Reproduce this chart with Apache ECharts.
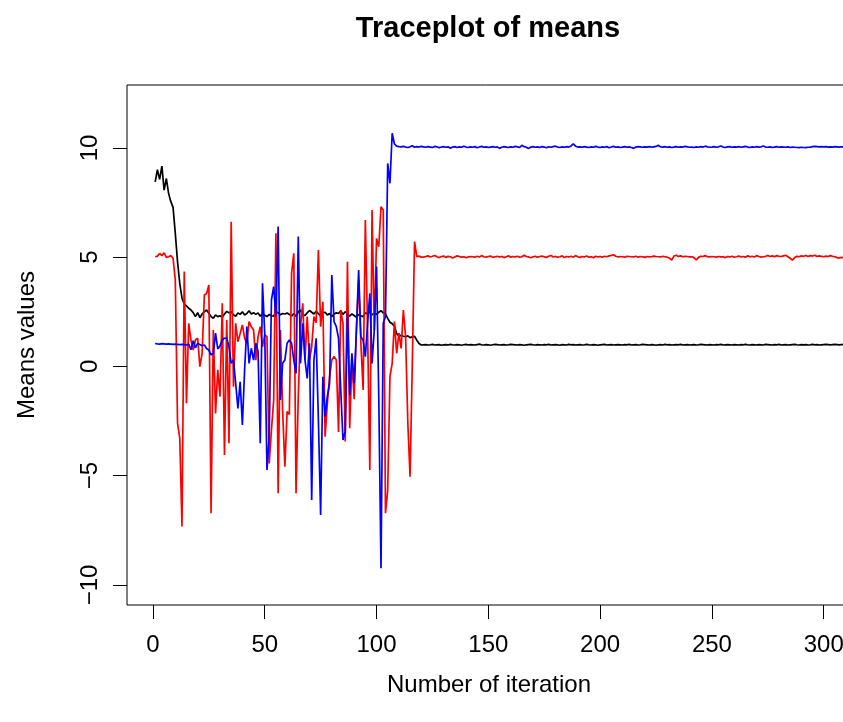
<!DOCTYPE html>
<html>
<head>
<meta charset="utf-8">
<title>Traceplot of means</title>
<script src="https://cdn.jsdelivr.net/npm/echarts@6/dist/echarts.min.js"></script>
<style>
html, body { margin: 0; padding: 0; background: #fff; }
#main { width: 843px; height: 722px; }
</style>
</head>
<body>
<div id="main"></div>
<script>
var xTicks = [0, 50, 100, 150, 200, 250, 300];
var yTicks = [-10, -5, 0, 5, 10];

// iterations 1..120, chains still mixing
var blackBurnIn = [
  8.45, 9.0, 8.56, 9.17, 8.07, 8.6, 7.92, 7.54, 7.28, 6.09,
  4.79, 3.8, 3.12, 2.86, 2.77, 2.66, 2.58, 2.46, 2.28, 2.46,
  2.23, 2.4, 2.5, 2.58, 2.43, 2.28, 2.2, 2.35, 2.28, 2.32,
  2.25, 2.4, 2.52, 2.45, 2.52, 2.36, 2.3, 2.45, 2.38, 2.5,
  2.35, 2.42, 2.55, 2.4, 2.46, 2.38, 2.45, 2.3, 2.4, 2.34,
  2.28, 2.38, 2.32, 2.3, 2.52, 2.45, 2.36, 2.42, 2.4, 2.44,
  2.38, 2.3, 2.42, 2.28, 2.5, 2.58, 2.36, 2.33, 2.45, 2.56,
  2.48, 2.4, 2.52, 2.42, 2.3, 2.45, 2.48, 2.35, 2.42, 2.28,
  2.4, 2.45, 2.42, 2.55, 2.38, 2.5, 2.42, 2.3, 2.4, 2.33,
  2.25, 2.38, 2.32, 2.28, 2.46, 2.4, 2.52, 2.36, 2.45, 2.38,
  2.48, 2.55, 2.45, 2.4, 2.2, 2.02, 1.95, 1.85, 1.5, 1.4,
  1.42, 1.38, 1.36, 1.4, 1.32, 1.35, 1.38, 1.2, 1.05, 0.98
];
var redBurnIn = [
  5.02, 5.05, 5.17, 5.07, 5.2, 4.99, 5.02, 5.07, 4.95, 3.96,
  -2.6, -3.29, -7.33, 4.34, -1.69, 1.97, 1.21, 0.75, 1.21, 1.29,
  -0.01, 0.6, 3.27, 3.34, 3.73, -6.72, 1.67, -2.15, -0.16, -1.38,
  2.89, -4.05, 2.12, -3.52, 6.62, -0.93, 1.97, 1.13, 1.5, 1.9,
  1.29, 1.06, 2.05, 1.82, 1.67, 0.29, 1.36, 1.82, 0.9, 1.44,
  1.36, -4.44, -2.91, -1.54, 6.09, -5.81, 1.67, -1.99, -4.59, -2.07,
  -2.2, 4.26, 5.18, -5.81, -1.38, 1.82, 2.89, 0.29, 2.28, 0.29,
  0.9, 2.28, 2.0, 5.33, 1.82, 2.96, -3.22, -1.69, -0.47, 0.29,
  0.45, 0.3, -3.0, 2.58, 1.97, -3.44, 4.79, -2.83, 0.29, -1.5,
  1.67, 3.95, 1.06, -1.08, 6.7, 1.67, -4.74, 7.16, 1.67, 5.86,
  5.48, 7.31, 7.16, -6.72, -5.66, -0.47, 0.14, 2.05, 0.6, 1.52,
  0.82, 2.58, 1.36, -2.6, -5.05, 0.14, 5.71, 5.02, 5.05, 5.0
];
var blueBurnIn = [
  1.05, 1.03, 1.02, 1.04, 1.03, 1.02, 1.03, 1.02, 1.01, 1.02,
  1.01, 1.0, 1.01, 1.0, 0.98, 1.02, 0.76, 1.18, 0.85, 1.05,
  1.0, 0.95, 0.98, 0.82, 0.75, 0.53, 0.6, 1.52, 0.8, 0.95,
  1.2, 1.29, 1.3, 0.9, 0.14, 0.3, -0.77, -1.92, -0.7, -2.68,
  -0.16, 1.82, 0.14, 0.83, 0.29, 1.06, 0.7, -3.52, 3.8, 1.5,
  -4.74, -3.2, 3.04, 3.65, 2.28, 6.4, -1.54, 0.14, 0.29, 1.06,
  1.21, 1.06, 0.29, -0.32, 5.94, 0.14, 1.97, 0.29, -0.55, 1.06,
  -6.11, 0.29, 1.29, -2.45, -6.8, -0.47, -2.3, -1.38, -0.77, 4.18,
  2.05, 1.82, 1.29, -1.08, -3.37, -2.99, 2.43, -1.31, 0.6, -0.77,
  1.67, 4.41, 1.36, 1.2, 0.45, 1.97, 3.34, 0.14, 1.67, 4.57,
  -1.38, -9.24, 1.97, 2.28, 9.29, 8.38, 10.67, 10.18, 10.08, 10.06,
  10.05, 10.07, 10.04, 10.02, 10.05, 10.1, 10.03, 10.06, 10.04, 10.07
];

// iterations 121..310, converged
var blackStable = [
  0.99, 1.00, 0.98, 0.99, 1.01, 0.98, 0.99, 1.00, 0.97, 0.99,
  1.00, 0.98, 1.01, 0.99, 0.98, 1.00, 0.99, 0.97, 0.99, 1.01,
  0.98, 1.00, 0.99, 0.98, 1.00, 1.02, 0.99, 0.98, 1.00, 0.99,
  0.97, 0.99, 1.01, 1.00, 0.98, 0.99, 1.00, 0.98, 0.99, 1.01,
  1.00, 0.99, 0.98, 1.00, 0.99, 0.97, 0.99, 1.00, 1.01, 0.99,
  0.98, 1.00, 0.99, 0.98, 1.00, 0.99, 1.01, 0.98, 0.99, 1.00,
  0.99, 0.97, 1.00, 0.99, 0.98, 1.01, 0.99, 1.00, 0.98, 0.99,
  1.00, 0.98, 0.99, 1.01, 0.99, 0.98, 1.00, 0.99, 0.97, 0.99,
  1.00, 1.01, 0.98, 0.99, 1.00, 0.98, 0.99, 1.00, 0.99, 0.98,
  1.00, 0.99, 1.01, 0.98, 0.99, 1.00, 0.98, 0.99, 1.01, 1.00,
  0.99, 0.98, 1.00, 0.99, 0.97, 0.99, 1.00, 0.98, 1.01, 0.99,
  1.00, 0.98, 0.99, 1.00, 0.99, 1.01, 0.98, 0.99, 1.00, 0.98,
  0.99, 1.00, 0.98, 0.99, 1.01, 1.00, 0.99, 0.98, 1.00, 0.99,
  0.98, 1.00, 0.99, 1.01, 0.98, 0.99, 1.00, 0.99, 0.98, 1.00,
  0.99, 0.98, 1.00, 0.99, 1.01, 0.99, 0.98, 1.00, 0.99, 0.98,
  1.00, 0.99, 0.98, 1.01, 1.00, 0.99, 0.98, 1.00, 0.99, 1.01,
  0.98, 0.99, 1.00, 0.98, 0.99, 1.00, 1.01, 0.99, 0.98, 1.00,
  0.99, 1.00, 0.98, 0.99, 1.01, 0.99, 1.00, 0.98, 0.99, 1.00,
  1.01, 1.00, 0.99, 1.00, 1.01, 1.00, 0.99, 1.00, 1.01, 1.00
];
var redStable = [
  5.00, 5.03, 5.06, 5.01, 5.04, 5.08, 5.02, 4.98, 5.03, 5.05,
  4.99, 5.04, 5.02, 4.96, 5.01, 5.06, 5.03, 5.00, 5.02, 4.98,
  5.01, 5.03, 5.02, 5.00, 5.04, 5.01, 5.07, 5.02, 5.00, 5.03,
  5.05, 4.99, 5.02, 5.04, 5.01, 5.03, 4.98, 5.02, 5.06, 5.00,
  5.03, 5.01, 5.04, 5.00, 5.02, 5.09, 5.03, 5.01, 4.97, 5.02,
  5.04, 5.00, 5.03, 5.05, 5.02, 4.99, 5.04, 5.08, 5.01, 5.03,
  5.00, 5.02, 5.06, 4.98, 5.03, 5.01, 5.04, 5.00, 5.07, 5.02,
  4.99, 5.03, 5.01, 5.05, 5.00, 5.02, 4.97, 5.04, 5.01, 5.03,
  5.00, 5.04, 5.02, 5.06, 5.08, 5.11, 5.04, 5.01, 5.03, 5.02,
  5.00, 5.04, 5.03, 5.02, 5.01, 5.04, 5.00, 5.03, 5.02, 4.99,
  5.03, 5.01, 5.02, 5.05, 5.03, 5.02, 5.01, 5.04, 5.02, 5.00,
  4.96, 4.87, 5.05, 5.09, 5.03, 5.06, 5.02, 5.04, 5.03, 5.01,
  5.02, 4.98, 4.87, 4.99, 5.04, 5.03, 5.07, 5.02, 5.01, 5.03,
  5.02, 5.00, 5.03, 5.01, 5.02, 4.98, 5.03, 5.01, 5.04, 5.00,
  5.02, 5.05, 5.01, 5.03, 5.00, 5.06, 5.02, 5.04, 5.01, 5.07,
  5.03, 5.00, 5.02, 5.04, 5.08, 5.03, 5.06, 5.02, 5.07, 5.04,
  5.03, 5.06, 5.09, 5.02, 4.95, 4.86, 4.98, 5.04, 5.02, 5.06,
  5.04, 5.08, 5.03, 5.07, 5.05, 5.09, 5.03, 5.06, 5.04, 5.02,
  5.05, 5.03, 5.07, 5.04, 5.02, 4.98, 4.96, 4.99, 4.97, 4.98
];
var blueStable = [
  10.05, 10.03, 10.06, 10.04, 10.02, 10.07, 10.05, 10.01, 10.04, 10.06,
  10.03, 10.05, 9.99, 10.04, 10.06, 10.02, 10.05, 10.03, 10.08, 10.04,
  10.02, 10.05, 10.03, 10.06, 10.01, 10.04, 10.07, 10.03, 10.05, 10.02,
  10.04, 10.06, 10.03, 10.05, 9.98, 10.03, 10.06, 10.04, 10.02, 10.05,
  10.03, 10.07, 10.05, 10.02, 10.12, 10.06, 10.03, 9.97, 10.04, 10.06,
  10.03, 10.05, 10.02, 10.06, 10.04, 10.01, 10.05, 10.03, 10.06, 10.08,
  10.04, 10.02, 10.05, 10.03, 10.06, 10.04, 10.09, 10.19, 10.08, 10.04,
  10.05, 10.03, 10.06, 10.04, 10.02, 10.05, 10.03, 10.07, 10.04, 10.02,
  10.05, 10.03, 10.06, 10.01, 10.04, 10.07, 10.03, 10.05, 10.02, 10.04,
  10.06, 10.03, 10.05, 10.02, 9.98, 10.04, 10.06, 10.05, 10.03, 10.05,
  10.04, 10.06, 10.03, 10.05, 10.07, 10.12, 10.05, 10.04, 10.06, 10.03,
  10.05, 10.02, 10.04, 10.06, 10.03, 10.05, 10.04, 10.07, 10.05, 10.03,
  10.04, 10.02, 10.05, 10.03, 10.06, 10.04, 10.08, 10.05, 10.03, 10.04,
  10.06, 10.03, 10.05, 10.09, 10.04, 10.02, 10.05, 10.06, 10.03, 10.05,
  10.04, 10.06, 10.03, 10.05, 10.07, 10.04, 10.02, 10.05, 10.03, 10.06,
  10.04, 10.05, 10.09, 10.04, 10.03, 10.05, 10.02, 10.04, 10.06, 10.03,
  10.05, 10.04, 10.03, 10.05, 10.02, 10.04, 10.03, 10.02, 10.01, 10.03,
  10.02, 10.01, 10.03, 10.04, 10.06, 10.07, 10.06, 10.05, 10.06, 10.05,
  10.06, 10.04, 10.05, 10.04, 10.06, 10.05, 10.04, 10.05, 10.04, 10.05
];

var blackMeans = blackBurnIn.concat(blackStable);
var redMeans = redBurnIn.concat(redStable);
var blueMeans = blueBurnIn.concat(blueStable);

function toPoints(values) {
  return values.map(function (v, i) { return [i + 1, v]; });
}

var FONT = "'Liberation Sans', Arial, Helvetica, sans-serif";

function chainSeries(name, color, values) {
  return {
    name: name,
    type: 'line',
    data: toPoints(values),
    showSymbol: false,
    lineStyle: { color: color, width: 1.7 },
    itemStyle: { color: color },
    silent: true
  };
}

var myChart = echarts.init(document.getElementById('main'));
myChart.setOption({
  animation: false,
  backgroundColor: '#fff',
  title: {
    text: 'Traceplot of means',
    left: 483,
    top: 9,
    textAlign: 'center',
    textStyle: { fontFamily: FONT, fontSize: 29, fontWeight: 'bold', color: '#000' }
  },
  grid: {
    left: 127,
    top: 85,
    width: 724,
    height: 520,
    show: true,
    borderColor: '#000',
    borderWidth: 1,
    containLabel: false,
    outerBoundsMode: 'none'
  },
  xAxis: {
    type: 'value',
    min: -11.6,
    max: 312.2,
    position: 'bottom',
    name: 'Number of iteration',
    nameLocation: 'middle',
    nameGap: 68,
    nameTextStyle: { fontFamily: FONT, fontSize: 24, color: '#000' },
    axisLine: { show: false, onZero: false },
    splitLine: { show: false },
    axisTick: { show: true, inside: false, length: 14, customValues: xTicks, lineStyle: { color: '#000', width: 1 } },
    axisLabel: { customValues: xTicks, margin: 28, fontFamily: FONT, fontSize: 24, color: '#000' }
  },
  yAxis: {
    type: 'value',
    min: -10.92,
    max: 12.88,
    position: 'left',
    name: 'Means values',
    nameLocation: 'middle',
    nameRotate: 90,
    nameGap: 88,
    nameTextStyle: { fontFamily: FONT, fontSize: 24, color: '#000' },
    axisLine: { show: false, onZero: false },
    splitLine: { show: false },
    axisTick: { show: true, inside: false, length: 14, customValues: yTicks, lineStyle: { color: '#000', width: 1 } },
    axisLabel: {
      customValues: yTicks,
      rotate: 90,
      margin: 25,
      fontFamily: FONT,
      fontSize: 24,
      color: '#000',
      formatter: function (v) { return String(v).replace('-', '\u2212'); }
    }
  },
  series: [
    chainSeries('chain 1', '#000000', blackMeans),
    chainSeries('chain 2', '#FF0000', redMeans),
    chainSeries('chain 3', '#0000FF', blueMeans)
  ]
});
</script>
</body>
</html>
